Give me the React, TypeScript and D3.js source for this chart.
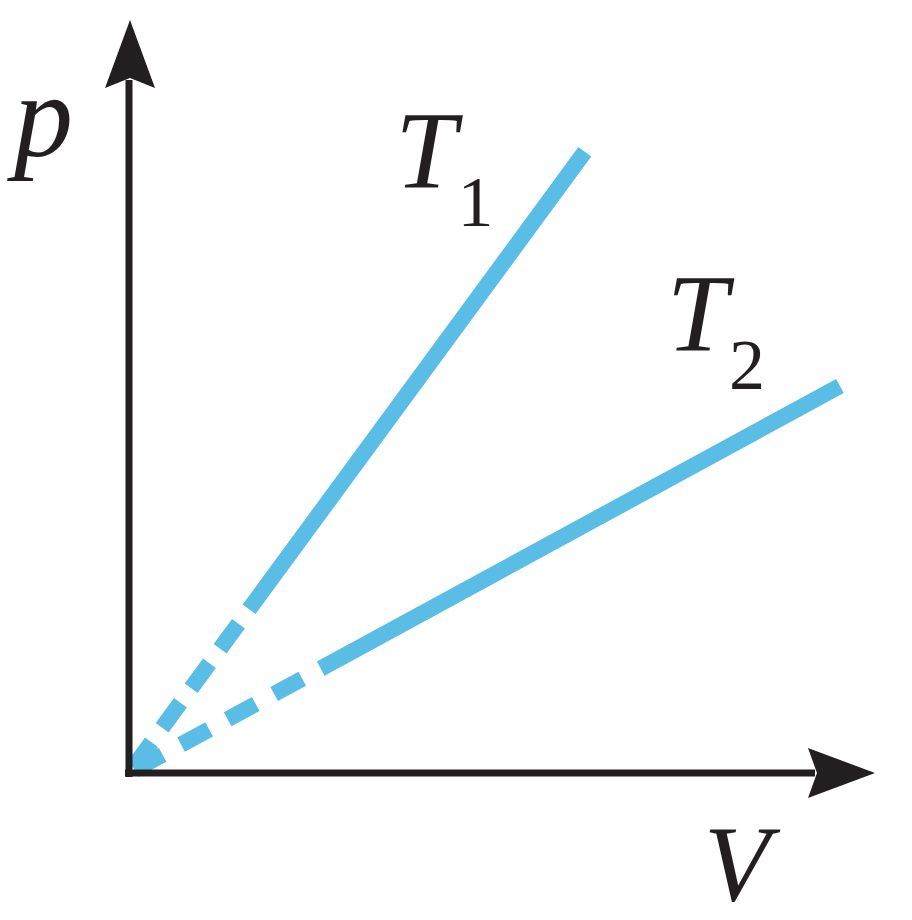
import * as d3 from "d3";
import { useEffect, useRef } from "react";

// axis extents in data units (V horizontal, p vertical)
const vDomain: [number, number] = [0, 10];
const pDomain: [number, number] = [0, 10];

// isotherm end points
const lineNames = ["T1", "T2"];
const lineEndV = [6.11, 9.53];
const lineEndP = [8.25, 5.14];
// where the dashed part near the origin turns solid (V value)
const lineBreakV = [1.61, 2.57];

const labelText = ["T", "T"];
const labelSub = ["1", "2"];
const labelV = [3.57, 7.21];
const labelP = [7.77, 5.6];

export default function App() {
  const svgRef = useRef<SVGSVGElement | null>(null);

  useEffect(() => {
    if (!svgRef.current) return;
    const width = 912;
    const height = 920;
    const svg = d3.select(svgRef.current);
    svg.selectAll("*").remove();
    svg.attr("viewBox", `0 0 ${width} ${height}`);

    const x = d3.scaleLinear().domain(vDomain).range([129, 875]);
    const y = d3.scaleLinear().domain(pDomain).range([773, 20]);

    const blue = "#5abde6";
    const ink = "#231f20";
    const lineW = 16;
    const dashes = ["31 18", "32 21"];
    const gapFirst = [31, 32];

    const segment = d3.line<[number, number]>().x((d) => x(d[0])).y((d) => y(d[1]));

    lineNames.forEach((name, i) => {
      const slope = lineEndP[i] / lineEndV[i];
      const bv = lineBreakV[i];
      const bp = bv * slope;
      // solid part
      svg
        .append("path")
        .attr("d", segment([[bv, bp], [lineEndV[i], lineEndP[i]]]))
        .attr("stroke", blue)
        .attr("stroke-width", lineW)
        .attr("fill", "none");
      // dashed part, drawn from the break back to the origin
      svg
        .append("path")
        .attr("d", segment([[bv, bp], [0, 0]]))
        .attr("stroke", blue)
        .attr("stroke-width", lineW)
        .attr("stroke-dasharray", dashes[i])
        .attr("stroke-dashoffset", gapFirst[i])
        .attr("fill", "none")
        .attr("data-name", name);
    });

    // axes
    svg
      .append("line")
      .attr("x1", x(0))
      .attr("y1", y(0) + 4)
      .attr("x2", x(0))
      .attr("y2", y(pDomain[1]) + 60)
      .attr("stroke", ink)
      .attr("stroke-width", 7);
    svg
      .append("line")
      .attr("x1", x(0) - 4)
      .attr("y1", y(0))
      .attr("x2", x(vDomain[1]) - 60)
      .attr("y2", y(0))
      .attr("stroke", ink)
      .attr("stroke-width", 7);

    // arrow heads
    const tipY = [x(0) + 1, y(pDomain[1])];
    svg
      .append("path")
      .attr(
        "d",
        `M${tipY[0]},${tipY[1]} L${tipY[0] + 25},${tipY[1] + 68} L${tipY[0]},${tipY[1] + 58} L${tipY[0] - 25},${tipY[1] + 68} Z`
      )
      .attr("fill", ink);
    const tipX = [x(vDomain[1]), y(0)];
    svg
      .append("path")
      .attr(
        "d",
        `M${tipX[0]},${tipX[1]} L${tipX[0] - 67},${tipX[1] - 25} L${tipX[0] - 58},${tipX[1]} L${tipX[0] - 67},${tipX[1] + 25} Z`
      )
      .attr("fill", ink);

    const font = "'Liberation Serif', 'Times New Roman', serif";

    // axis titles
    svg
      .append("text")
      .attr("x", 14)
      .attr("y", 156)
      .attr("font-family", font)
      .attr("font-style", "italic")
      .attr("font-size", 118)
      .attr("fill", ink)
      .text("p");
    svg
      .append("text")
      .attr("x", 704)
      .attr("y", 900)
      .attr("font-family", font)
      .attr("font-style", "italic")
      .attr("font-size", 108)
      .attr("fill", ink)
      .text("V");

    // isotherm labels
    labelText.forEach((t, i) => {
      const g = svg
        .append("text")
        .attr("x", x(labelV[i]))
        .attr("y", y(labelP[i]))
        .attr("font-family", font)
        .attr("fill", ink);
      g.append("tspan").attr("font-style", "italic").attr("font-size", 110).text(t);
      g.append("tspan")
        .attr("font-size", 72)
        .attr("dx", 1)
        .attr("dy", 38)
        .text(labelSub[i]);
    });
  }, []);

  return (
    <svg
      ref={svgRef}
      width={912}
      height={920}
      style={{ position: "absolute", left: 0, top: 0, background: "#fff" }}
    />
  );
}
